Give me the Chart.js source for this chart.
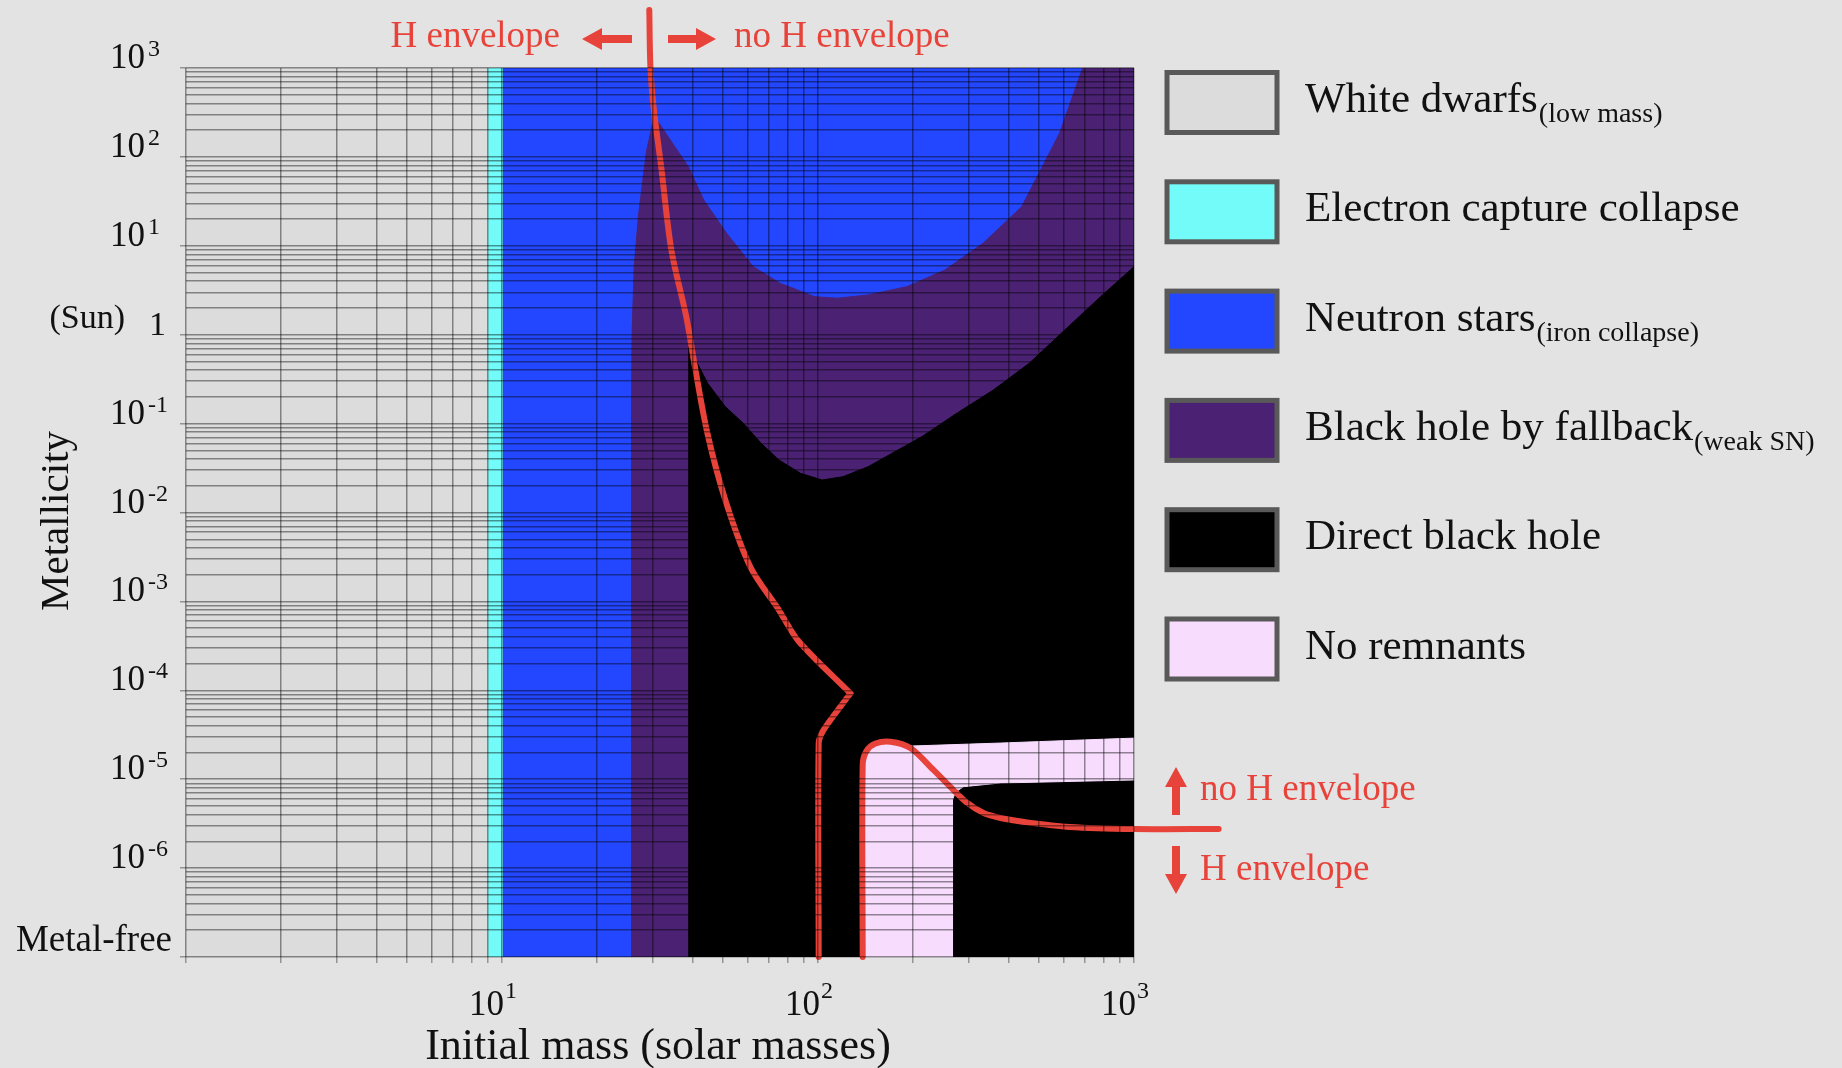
<!DOCTYPE html>
<html>
<head>
<meta charset="utf-8">
<script src="https://cdn.jsdelivr.net/npm/chart.js@4.4.1/dist/chart.umd.min.js"></script>
<style>
  html, body { margin: 0; padding: 0; background: #e3e3e3; }
  canvas { display: block; }
</style>
</head>
<body>
<canvas id="remnants" width="1842" height="1068"></canvas>
<script>
// Remnants of single stars by initial mass and metallicity (log-log)

// region outlines: initial mass (solar masses) and metallicity
const whiteDwarfMass = [1, 1, 9, 9];
const whiteDwarfZ = [1e-7, 1e3, 1e3, 1e-7];

const electronCaptureMass = [9, 9, 10, 10];
const electronCaptureZ = [1e-7, 1e3, 1e3, 1e-7];

const neutronStarMass = [10, 10, 1000, 1000];
const neutronStarZ = [1e-7, 1e3, 1e3, 1e-7];

const fallbackMass = [25.7, 25.7, 25.8, 26.2, 27.0, 28.6, 30.3, 38.9, 43.5, 51.4, 62.4, 76.0, 97.6, 115, 144, 191, 252, 333, 441, 581, 688, 1000, 1000];
const fallbackZ = [1e-7, 0.184, 1.05, 5.77, 21.1, 111, 288, 77.6, 32.7, 13.8, 5.82, 3.78, 2.68, 2.57, 2.80, 3.47, 5.34, 10.7, 27.5, 184, 1000, 1000, 1e-7];

const directBHMass = [39.0, 39.0, 44.7, 50.9, 58.0, 66.1, 75.2, 88.0, 103, 120, 144, 213, 276, 359, 466, 604, 784, 1000, 1000];
const directBHZ = [1e-7, 0.733, 0.286, 0.155, 0.101, 0.0600, 0.0390, 0.0276, 0.0232, 0.0253, 0.0327, 0.0712, 0.132, 0.239, 0.477, 1.13, 2.68, 5.82, 1e-7];

const noRemnantMass = [138, 138, 142, 155, 170, 196, 378, 1000, 1000, 378, 289, 272, 266.5, 266.5];
const noRemnantZ = [1e-7, 1.45e-5, 2.13e-5, 2.55e-5, 2.64e-5, 2.36e-5, 2.55e-5, 2.90e-5, 9.8e-6, 9.06e-6, 8.24e-6, 7.18e-6, 5.83e-6, 1e-7];

// H envelope / no H envelope boundaries
// high-mass branch, from the top down to the kink
const envelopeUpperMass = [29.25, 29.5, 30.25, 31.9, 34.35, 38.3, 40.8, 44.65, 50.9, 61.1, 75.2, 86.7, 126.6];
const envelopeUpperZ = [4490, 1000, 337, 77.0, 8.97, 1.59, 0.433, 0.0784, 0.0138, 2.44e-3, 8.0e-4, 3.59e-4, 9.25e-5];
// from the kink down to metal-free
const envelopeKinkMass = [126.6, 109.5, 103.3, 100.5, 100.5];
const envelopeKinkZ = [9.25e-5, 4.63e-5, 3.40e-5, 2.55e-5, 1e-7];
// low-metallicity branch, read from the right edge back to metal-free
const envelopeLowMass = [1853, 1000, 625.4, 450.4, 378.1, 334.1, 296.6, 268.4, 231.9, 196.1, 169.6, 152.0, 142.3, 138.5, 138.5];
const envelopeLowZ = [2.75e-6, 2.75e-6, 2.90e-6, 3.30e-6, 3.66e-6, 4.16e-6, 5.40e-6, 7.55e-6, 1.27e-5, 2.24e-5, 2.64e-5, 2.52e-5, 2.07e-5, 1.45e-5, 1e-7];

// tick labels
const massTickValues = [10, 100, 1000];
const massTickSup = ['1', '2', '3'];
const zTickValues = [1e3, 1e2, 1e1, 1, 1e-1, 1e-2, 1e-3, 1e-4, 1e-5, 1e-6, 1e-7];
const zTickSup = ['3', '2', '1', '', '-1', '-2', '-3', '-4', '-5', '-6', ''];

// legend
const legendNames = ['White dwarfs', 'Electron capture collapse', 'Neutron stars', 'Black hole by fallback', 'Direct black hole', 'No remnants'];
const legendSubs = ['(low mass)', '', '(iron collapse)', '(weak SN)', '', ''];
const legendColors = ['#dcdcdc', '#72fbf8', '#2347ff', '#4b2273', '#000000', '#f7dcfd'];

const RED = '#e8433a';
const SERIF = '"Liberation Serif", "Times New Roman", serif';

const pts = (xs, ys) => xs.map((x, i) => ({ x: x, y: ys[i] }));

function region(label, xs, ys, color) {
    return {
        label: label,
        data: pts(xs, ys),
        backgroundColor: color,
        borderColor: color,
        borderWidth: 1,
        fill: 'shape',
        pointRadius: 0,
        tension: 0
    };
}

function envelopeLine(xs, ys, tension) {
    return {
        label: 'H envelope boundary',
        data: pts(xs, ys),
        borderColor: RED,
        borderWidth: 6,
        borderJoinStyle: 'round',
        borderCapStyle: 'round',
        fill: false,
        pointRadius: 0,
        tension: tension,
        capBezierPoints: false,
        clip: false
    };
}

// log grid ticks 1..9 per decade
function logTicks(lo, hi) {
    const out = [];
    for (let e = lo; e < hi; e++) {
        for (let d = 1; d < 10; d++) out.push({ value: d * Math.pow(10, e), major: d === 1 });
    }
    out.push({ value: Math.pow(10, hi), major: true });
    return out;
}

function drawArrow(ctx, x1, y1, x2, y2) {
    const ang = Math.atan2(y2 - y1, x2 - x1);
    const len = Math.hypot(x2 - x1, y2 - y1);
    ctx.save();
    ctx.translate(x1, y1);
    ctx.rotate(ang);
    ctx.fillStyle = RED;
    ctx.fillRect(0, -4, len - 16, 8);
    ctx.beginPath();
    ctx.moveTo(len, 0);
    ctx.lineTo(len - 20, -11);
    ctx.lineTo(len - 20, 11);
    ctx.closePath();
    ctx.fill();
    ctx.restore();
}

const textPlugin = {
    id: 'textPlugin',
    beforeDraw(chart) {
        const ctx = chart.ctx;
        ctx.save();
        ctx.fillStyle = '#e3e3e3';
        ctx.fillRect(0, 0, chart.width, chart.height);
        ctx.restore();
    },
    afterDraw(chart) {
        const { ctx } = chart;
        const xs = chart.scales.x, ys = chart.scales.y;
        ctx.save();
        ctx.fillStyle = '#111';
        ctx.textBaseline = 'alphabetic';

        // y tick labels
        zTickValues.forEach((v, i) => {
            const py = ys.getPixelForValue(v);
            if (v === 1) {
                ctx.font = '34px ' + SERIF;
                ctx.textAlign = 'right';
                ctx.fillText('1', 166, py);
                ctx.fillText('(Sun)', 125, py - 7);
            } else if (zTickSup[i] === '') {
                ctx.font = '37px ' + SERIF;
                ctx.textAlign = 'right';
                ctx.fillText('Metal-free', 172, py - 6);
            } else {
                ctx.font = '35px ' + SERIF;
                ctx.textAlign = 'left';
                ctx.fillText('10', 110, py);
                ctx.font = '24px ' + SERIF;
                ctx.fillText(zTickSup[i], 148, py - 12);
            }
        });

        // x tick labels
        massTickValues.forEach((v, i) => {
            const px = xs.getPixelForValue(v);
            ctx.font = '35px ' + SERIF;
            ctx.textAlign = 'right';
            ctx.fillText('10', px + 2, 1015);
            ctx.font = '24px ' + SERIF;
            ctx.textAlign = 'left';
            ctx.fillText(massTickSup[i], px + 3, 998);
        });

        // axis titles
        ctx.font = '44px ' + SERIF;
        ctx.textAlign = 'center';
        ctx.fillText('Initial mass (solar masses)', 658, 1059);
        ctx.save();
        ctx.translate(68, 521);
        ctx.rotate(-Math.PI / 2);
        ctx.font = '41px ' + SERIF;
        ctx.fillText('Metallicity', 0, 0);
        ctx.restore();

        // legend
        legendNames.forEach((name, i) => {
            const top = 70 + i * 109.3;
            ctx.fillStyle = legendColors[i];
            ctx.fillRect(1167, top + 2.5, 110, 60);
            ctx.strokeStyle = '#595959';
            ctx.lineWidth = 5;
            ctx.strokeRect(1167, top + 2.5, 110, 60);
            ctx.fillStyle = '#111';
            ctx.textAlign = 'left';
            ctx.font = '43px ' + SERIF;
            ctx.fillText(name, 1305, top + 42);
            if (legendSubs[i]) {
                const w = ctx.measureText(name).width;
                ctx.font = '28px ' + SERIF;
                ctx.fillText(legendSubs[i], 1305 + w + 1, top + 52);
            }
        });

        // envelope annotations
        ctx.fillStyle = RED;
        ctx.font = '37px ' + SERIF;
        ctx.textAlign = 'right';
        ctx.fillText('H envelope', 560, 47);
        ctx.textAlign = 'left';
        ctx.fillText('no H envelope', 734, 47);
        drawArrow(ctx, 632, 39, 582, 39);
        drawArrow(ctx, 668, 39, 716, 39);

        ctx.fillText('no H envelope', 1200, 800);
        ctx.fillText('H envelope', 1200, 880);
        drawArrow(ctx, 1176, 815, 1176, 767);
        drawArrow(ctx, 1176, 846, 1176, 894);
        ctx.restore();
    }
};

const gridColor = 'rgba(0, 0, 0, 0.42)';

const config = {
    type: 'line',
    data: {
        datasets: [
            envelopeLine(envelopeUpperMass, envelopeUpperZ, 0.3),
            envelopeLine(envelopeKinkMass, envelopeKinkZ, 0.3),
            envelopeLine(envelopeLowMass, envelopeLowZ, 0.3),
            region('No remnants', noRemnantMass, noRemnantZ, legendColors[5]),
            region('White dwarfs', whiteDwarfMass, whiteDwarfZ, legendColors[0]),
            region('Electron capture collapse', electronCaptureMass, electronCaptureZ, legendColors[1]),
            region('Direct black hole', directBHMass, directBHZ, legendColors[4]),
            region('Black hole by fallback', fallbackMass, fallbackZ, legendColors[3]),
            region('Neutron stars', neutronStarMass, neutronStarZ, legendColors[2])
        ]
    },
    options: {
        responsive: false,
        devicePixelRatio: 1,
        animation: false,
        events: [],
        layout: { padding: { left: 180, top: 68, right: 708, bottom: 105 } },
        plugins: {
            legend: { display: false },
            tooltip: { enabled: false }
        },
        scales: {
            x: {
                type: 'logarithmic',
                min: 1,
                max: 1000,
                afterBuildTicks: (scale) => { scale.ticks = logTicks(0, 3); },
                afterFit: (scale) => { scale.height = 6; },
                ticks: { display: false },
                border: { display: false },
                grid: { color: gridColor, tickColor: 'rgba(0,0,0,0.35)', lineWidth: 1.5, tickLength: 6, z: 1 }
            },
            y: {
                type: 'logarithmic',
                min: 1e-7,
                max: 1e3,
                afterBuildTicks: (scale) => { scale.ticks = logTicks(-7, 3); },
                afterFit: (scale) => { scale.width = 6; },
                ticks: { display: false },
                border: { display: false },
                grid: {
                    color: gridColor,
                    tickColor: (c) => (c.tick && c.tick.major) ? 'rgba(0,0,0,0.35)' : 'rgba(0,0,0,0)',
                    lineWidth: 1.5,
                    tickLength: 6,
                    z: 1
                }
            }
        }
    },
    plugins: [textPlugin]
};

const remnantChart = new Chart(document.getElementById('remnants'), config);
</script>
</body>
</html>
